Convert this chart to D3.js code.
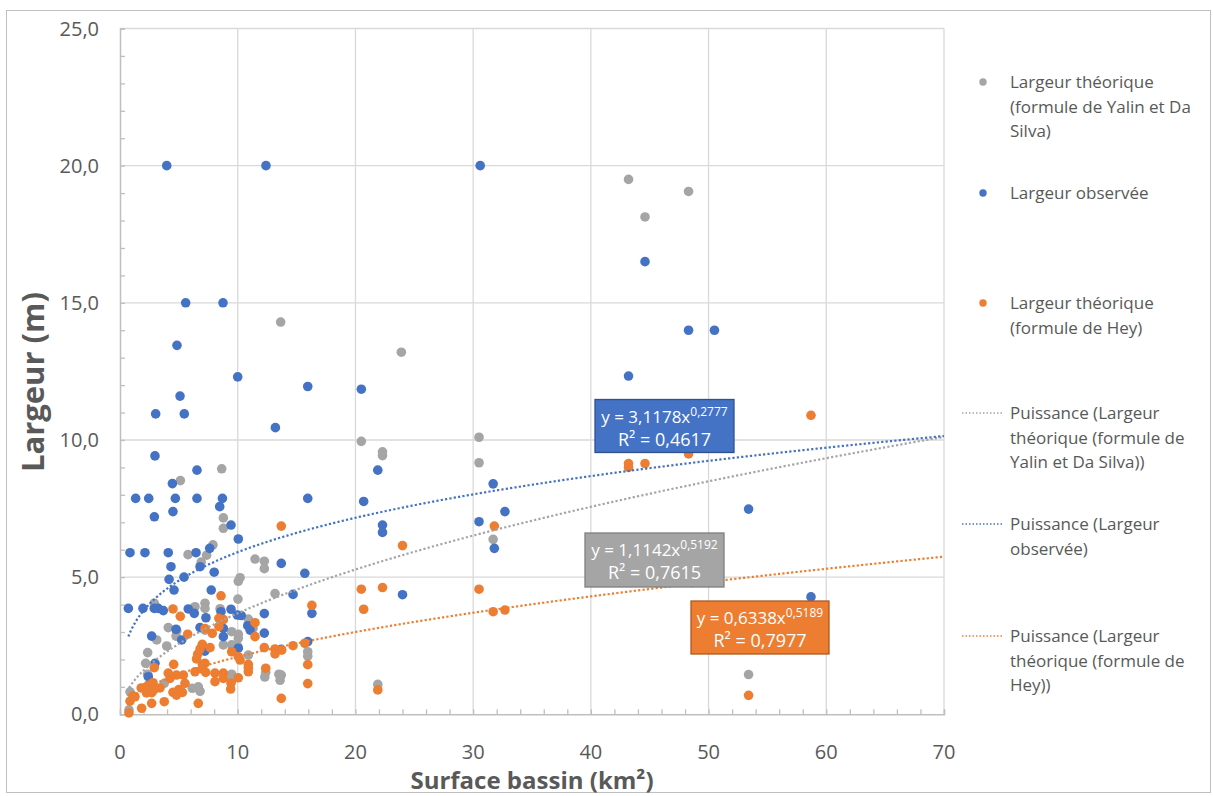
<!DOCTYPE html>
<meta charset="utf-8">
<style>
  body { margin: 0; background: #fff; }
  svg text { font-family: "Open Sans", sans-serif; fill: #595959; }
</style>
<body>
<div id="chart"></div>
<script src="https://cdnjs.cloudflare.com/ajax/libs/d3/7.8.5/d3.min.js"></script>
<script>
  // --- data: [surface km², largeur m] ---
  var yalinPts = [
    [13.65, 14.3], [23.9, 13.2], [20.5, 9.95], [22.3, 9.57], [22.3, 9.43], [30.5, 10.1], [30.5, 9.17],
    [31.7, 6.38], [15.95, 2.28], [15.95, 2.12], [13.7, 1.43], [21.9, 1.09],
    [43.2, 19.5], [48.3, 19.06], [44.6, 18.13], [53.4, 1.45],
    [5.13, 8.52], [5.78, 5.82], [7.36, 5.8], [6.9, 5.55], [8.64, 8.95], [8.78, 7.16], [8.78, 6.78],
    [7.9, 6.18], [11.47, 5.66], [12.26, 5.58], [12.26, 5.31], [10.2, 4.98], [10.05, 4.85], [13.17, 4.4],
    [10.02, 4.2], [2.91, 4.05], [6.37, 3.92], [7.22, 4.05], [7.22, 3.86], [8.5, 3.85], [4.1, 3.16],
    [4.76, 2.85], [3.12, 2.71], [3.97, 2.49], [7.22, 3.07], [2.35, 2.25], [2.18, 1.86], [2.35, 1.46],
    [6.65, 1.0], [0.85, 0.82], [0.76, 0.16], [3.76, 1.13], [6.14, 0.95], [4.82, 3.04],
    [10.9, 3.47], [11.3, 3.13], [9.49, 3.01], [10.05, 2.92], [10.05, 2.77], [8.78, 2.53], [9.49, 2.53],
    [10.0, 2.48], [10.9, 2.16], [12.38, 1.53], [13.5, 1.46], [9.49, 1.46], [12.3, 1.36], [13.6, 1.24],
    [9.5, 1.24], [6.8, 0.84]
  ];

  var observedPts = [
    [3.97, 20], [12.4, 20], [30.6, 20], [5.58, 15], [8.75, 15], [4.84, 13.45], [10.0, 12.3],
    [15.95, 11.95], [20.5, 11.85], [5.1, 11.6], [3.03, 10.95], [5.46, 10.95], [13.2, 10.45], [2.97, 9.42],
    [43.2, 12.33], [44.6, 16.5], [48.3, 14.0], [50.5, 14.0], [53.4, 7.48], [58.7, 4.28],
    [21.9, 8.9], [31.7, 8.4], [15.95, 7.87], [20.7, 7.76], [32.7, 7.39], [22.3, 6.9], [22.3, 6.63],
    [30.5, 7.02], [31.8, 6.05], [13.7, 5.5], [15.7, 5.14], [14.7, 4.37], [24.0, 4.36], [16.3, 3.68],
    [15.95, 2.65], [13.7, 2.37],
    [6.54, 8.9], [4.45, 8.41], [1.33, 7.87], [2.44, 7.87], [4.7, 7.87], [6.54, 7.87], [2.92, 7.2], [4.5, 7.39],
    [0.85, 5.89], [2.12, 5.89], [4.1, 5.89], [6.46, 5.89], [7.62, 6.05], [4.33, 5.38], [6.8, 5.38],
    [4.17, 4.92], [5.44, 5.0], [8.7, 7.87], [8.47, 7.57], [9.43, 6.9], [10.05, 6.39], [8.0, 5.18],
    [4.59, 4.53], [0.71, 3.86], [1.95, 3.86], [2.91, 3.86], [3.25, 3.86], [3.68, 3.78], [5.8, 3.84],
    [6.31, 3.68], [7.3, 3.52], [7.75, 4.53], [4.76, 3.1], [5.24, 2.71], [2.69, 2.85], [6.8, 3.16],
    [7.2, 2.3], [2.97, 1.86], [2.4, 1.37],
    [9.43, 3.83], [9.97, 3.62], [10.3, 3.6], [8.58, 3.74], [12.26, 3.67], [10.85, 3.23], [11.05, 3.07],
    [12.26, 2.96], [8.78, 2.83], [8.78, 3.13], [10.05, 2.41]
  ];

  var heyPts = [
    [13.7, 6.86], [31.8, 6.86], [24.0, 6.15], [20.5, 4.56], [22.3, 4.62], [30.5, 4.56], [16.3, 3.97],
    [20.7, 3.83], [31.7, 3.74], [32.7, 3.8], [15.7, 2.59], [14.7, 2.5], [15.95, 1.81], [15.95, 1.12],
    [21.9, 0.89], [13.7, 0.58],
    [58.7, 10.9], [48.3, 9.49], [43.2, 9.14], [43.2, 9.0], [44.6, 9.14], [48.6, 4.8], [53.4, 0.69],
    [4.5, 3.84], [5.12, 3.57], [5.75, 2.92], [6.99, 2.55], [6.6, 2.19], [2.91, 1.7], [4.56, 1.82],
    [4.1, 1.5], [4.8, 1.43], [5.38, 1.43], [4.25, 1.31], [6.37, 1.55], [6.99, 1.65], [7.28, 1.53],
    [5.52, 1.13], [0.85, 0.48], [1.27, 0.64], [1.8, 0.96], [2.1, 0.97], [2.4, 1.06], [2.8, 1.15],
    [2.25, 0.78], [2.7, 0.79], [3.4, 0.96], [2.9, 0.9], [1.84, 0.22], [2.69, 0.4], [3.76, 0.46],
    [4.5, 0.8], [5.0, 0.9], [4.8, 0.7], [5.3, 0.8], [6.65, 0.4], [0.76, 0.05], [1.1, 0.67],
    [8.58, 4.32], [8.4, 3.5], [11.47, 3.34], [11.47, 2.83], [7.22, 3.13], [7.84, 2.95], [8.78, 3.45],
    [8.4, 3.2], [9.49, 2.28], [10.05, 2.1], [10.2, 1.98], [7.65, 2.43], [12.26, 2.43], [13.17, 2.38],
    [13.74, 2.34], [10.9, 1.82], [10.9, 1.7], [12.38, 1.68], [7.22, 1.86], [8.07, 1.5], [8.78, 1.5],
    [8.07, 1.19], [8.78, 1.31], [9.43, 1.13], [10.05, 1.33], [6.8, 2.38], [6.5, 2.02], [7.0, 1.82],
    [13.17, 2.2], [10.9, 1.55], [9.4, 0.92]
  ];

  // power trend coefficients as printed on the chart (y = a x^b)
  var trendA = [1.1142, 3.1178, 0.6338];
  var trendB = [0.5192, 0.2777, 0.5189];
  var trendR2 = ["0,7615", "0,4617", "0,7977"];

  var seriesNames = [
    ["Largeur théorique", "(formule de Yalin et Da", "Silva)"],
    ["Largeur observée"],
    ["Largeur théorique", "(formule de Hey)"]
  ];
  var trendNames = [
    ["Puissance (Largeur", "théorique (formule de", "Yalin et Da Silva))"],
    ["Puissance (Largeur", "observée)"],
    ["Puissance (Largeur", "théorique (formule de", "Hey))"]
  ];

  var xTicks = [0, 10, 20, 30, 40, 50, 60, 70];
  var yTicks = [0, 5, 10, 15, 20, 25];

  var colors = ["#A5A5A5", "#4472C4", "#ED7D31"];
  var boxStroke = ["#7F7F7F", "#2F528F", "#AE5A21"];

  var W = 1213, H = 796;
  var plot = { left: 120, right: 944, top: 28.5, bottom: 714.3 };

  var svg = d3.select("#chart").append("svg")
    .attr("width", W)
    .attr("height", H);

  svg.append("rect")
    .attr("x", 6.5).attr("y", 10.5)
    .attr("width", W - 9).attr("height", H - 14)
    .attr("fill", "#fff")
    .attr("stroke", "#BFBFBF");

  var x = d3.scaleLinear().domain([0, 70]).range([plot.left, plot.right]);
  var y = d3.scaleLinear().domain([0, 25]).range([plot.bottom, plot.top]);

  var fmt = function (d) { return d3.format(".1f")(d).replace(".", ","); };

  // gridlines
  var grid = svg.append("g");
  grid.selectAll(".gx").data(xTicks.slice(1)).enter().append("line")
    .attr("x1", function (d) { return x(d); }).attr("x2", function (d) { return x(d); })
    .attr("y1", plot.top).attr("y2", plot.bottom)
    .attr("stroke", "#D9D9D9").attr("stroke-width", 1.3);
  grid.selectAll(".gy").data(yTicks.slice(1)).enter().append("line")
    .attr("y1", function (d) { return y(d); }).attr("y2", function (d) { return y(d); })
    .attr("x1", plot.left).attr("x2", plot.right)
    .attr("stroke", "#D9D9D9").attr("stroke-width", 1.3);

  // axes (minor ticks inside)
  var xAxis = svg.append("g")
    .attr("transform", "translate(0," + plot.bottom + ")")
    .call(d3.axisBottom(x).tickValues(d3.range(0, 71, 2)).tickSize(-5).tickFormat(""));
  var yAxis = svg.append("g")
    .attr("transform", "translate(" + plot.left + ",0)")
    .call(d3.axisLeft(y).tickValues(d3.range(0, 26, 1)).tickSize(-5).tickFormat(""));
  [xAxis, yAxis].forEach(function (g) {
    g.select(".domain").attr("stroke", "#BFBFBF").attr("stroke-width", 1.5);
    g.selectAll(".tick line").attr("stroke", "#BFBFBF").attr("stroke-width", 1.3);
  });

  svg.append("g").selectAll("text").data(xTicks).enter().append("text")
    .attr("x", function (d) { return x(d); })
    .attr("y", plot.bottom + 45)
    .attr("text-anchor", "middle")
    .style("font-size", "20px")
    .text(function (d) { return d; });

  svg.append("g").selectAll("text").data(yTicks).enter().append("text")
    .attr("x", plot.left - 21)
    .attr("y", function (d) { return y(d) + 7; })
    .attr("text-anchor", "end")
    .style("font-size", "20px")
    .text(fmt);

  // axis titles
  svg.append("text")
    .attr("x", 532).attr("y", 789)
    .attr("text-anchor", "middle")
    .style("font-size", "24px").style("font-weight", "bold")
    .text("Surface bassin (km²)");
  svg.append("text")
    .attr("transform", "translate(44,382) rotate(-90)")
    .attr("text-anchor", "middle")
    .style("font-size", "31px").style("font-weight", "bold")
    .text("Largeur (m)");

  // points
  var allSeries = [yalinPts, observedPts, heyPts];
  allSeries.forEach(function (pts, i) {
    svg.append("g").selectAll("circle").data(pts).enter().append("circle")
      .attr("cx", function (d) { return x(d[0]); })
      .attr("cy", function (d) { return y(d[1]); })
      .attr("r", 4.8)
      .attr("fill", colors[i]);
  });

  // power trendlines from the printed equations
  var line = d3.line()
    .x(function (d) { return x(d[0]); })
    .y(function (d) { return y(d[1]); });
  allSeries.forEach(function (pts, i) {
    var x0 = d3.min(pts, function (d) { return d[0]; });
    var xs = d3.range(x0, 70, 0.1).concat([70]);
    svg.append("path")
      .datum(xs.map(function (v) { return [v, trendA[i] * Math.pow(v, trendB[i])]; }))
      .attr("d", line)
      .attr("fill", "none")
      .attr("stroke", colors[i])
      .attr("stroke-width", 2.2)
      .attr("stroke-dasharray", "2.2 2.2");
  });

  // equation boxes
  var boxes = [
    { x: 585, y: 533, w: 139, h: 54 },
    { x: 595, y: 399.5, w: 139, h: 53 },
    { x: 691, y: 601, w: 138, h: 53 }
  ];
  boxes.forEach(function (b, i) {
    var g = svg.append("g").attr("transform", "translate(" + b.x + "," + b.y + ")");
    g.append("rect")
      .attr("width", b.w).attr("height", b.h)
      .attr("fill", colors[i]).attr("stroke", boxStroke[i]).attr("stroke-width", 1.3);
    var t1 = g.append("text")
      .attr("x", b.w / 2).attr("y", 23)
      .attr("text-anchor", "middle")
      .style("font-size", "17px").style("fill", "#fff");
    t1.append("tspan").text("y = " + String(trendA[i]).replace(".", ",") + "x");
    t1.append("tspan").attr("dy", -7).style("font-size", "12px")
      .text(String(trendB[i]).replace(".", ","));
    g.append("text")
      .attr("x", b.w / 2).attr("y", 46)
      .attr("text-anchor", "middle")
      .style("font-size", "18px").style("fill", "#fff")
      .text("R² = " + trendR2[i]);
  });

  // legend
  var legX = 983, legTextX = 1010, lineH = 24.5;
  var markerY = [82, 193, 303];
  var trendY = [413, 524, 636];
  var legend = svg.append("g");
  seriesNames.forEach(function (lines, i) {
    legend.append("circle")
      .attr("cx", legX).attr("cy", markerY[i]).attr("r", 3.7).attr("fill", colors[i]);
    legend.append("g").selectAll("text").data(lines).enter().append("text")
      .attr("x", legTextX)
      .attr("y", function (d, j) { return markerY[i] + 6 + j * lineH; })
      .style("font-size", "17px")
      .text(function (d) { return d; });
  });
  trendNames.forEach(function (lines, i) {
    legend.append("line")
      .attr("x1", 962).attr("x2", 1002)
      .attr("y1", trendY[i]).attr("y2", trendY[i])
      .attr("stroke", colors[i]).attr("stroke-width", 1.5)
      .attr("stroke-dasharray", "1.5 2");
    legend.append("g").selectAll("text").data(lines).enter().append("text")
      .attr("x", legTextX)
      .attr("y", function (d, j) { return trendY[i] + 6 + j * lineH; })
      .style("font-size", "17px")
      .text(function (d) { return d; });
  });
</script>
</body>
